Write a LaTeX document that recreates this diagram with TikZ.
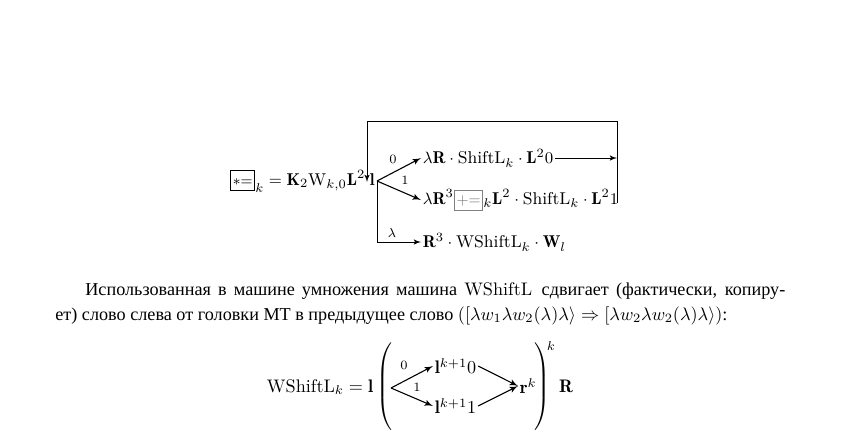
\documentclass[tikz,border=0pt]{standalone}
\usepackage{amsmath}
\usepackage{amssymb}
\usepackage{xcolor}
\usepackage{fontspec}
\newfontfamily\cyr{Liberation Serif}
\usepackage{tikz}
\usetikzlibrary{shapes,arrows}
\tikzstyle{term} = [inner sep=0pt, outer sep=1pt, font=\fontsize{9.4}{11}\selectfont]
\tikzstyle{line} = [draw, -latex']
\tikzstyle{branch} = [draw, semithick, -latex']
\tikzstyle{lbl} = [font=\scriptsize, inner sep=0pt]
\newcommand{\opbox}[1]{{\setlength{\fboxsep}{1pt}\setlength{\fboxrule}{0.5pt}\fbox{\rule[-2pt]{0pt}{8.5pt}\footnotesize$\mathord{#1}\mathord{=}$}}}
\newcommand{\tall}{\vrule height 24pt depth 24pt width 0pt}

\begin{document}
\begin{tikzpicture}[x=0.55pt,y=-0.55pt]
\useasboundingbox (0,0) rectangle (847,435);
% upper scheme
\node [term, anchor=base east] (lhs) at (367,185) {$\opbox{*}_k=\mathbf{K}_2\mathrm{W}_{k,0}\mathbf{L}^2$};
\node [term, anchor=base west] (l) at (368,185) {$\mathbf{l}$};
\coordinate (br) at (377,181);
\node [term, anchor=west] (r0) at (421,158) {$\lambda\mathbf{R}\cdot\mathrm{ShiftL}_k\cdot\mathbf{L}^2 0$};
\node [term, anchor=west] (r1) at (421,200) {$\lambda\mathbf{R}^3\textcolor{gray}{\opbox{+}}_k\mathbf{L}^2\cdot\mathrm{ShiftL}_k\cdot\mathbf{L}^2 1$};
\node [term, anchor=west] (r2) at (421,242) {$\mathbf{R}^3\cdot\mathrm{WShiftL}_k\cdot\mathbf{W}_l$};
\coordinate (ne) at (617,121);
\coordinate (se) at (617,203);
\coordinate (nw) at (367,121);
\coordinate (in) at (367,182);
\path [branch] (br) -- (r0.west);
\path [branch] (br) -- (r1.west);
\path [line] (br) |- (r2.west);
\path [line] (r0.east) -- (r0.east -| ne);
\path [line] (se) -- (ne) -- (nw) -- (in);
\node [lbl] (l0) at (393,159) {$0$};
\node [lbl] (l1) at (405,180) {$1$};
\node [lbl] (ll) at (392,233) {$\lambda$};
% text
\node [inner sep=0pt, anchor=base west] (p1) at (85,295) {\makebox[385pt][s]{\cyr Использованная в машине умножения машина \rmfamily WShiftL \cyr сдвигает (фактически, копиру-}};
\node [inner sep=0pt, anchor=base west] (p2) at (55,320) {\cyr ет) слово слева от головки МТ в предыдущее слово $([\lambda w_1\lambda w_2(\lambda)\lambda\rangle\Rightarrow[\lambda w_2\lambda w_2(\lambda)\lambda\rangle)$:};
% lower scheme
\node [term, font=\normalsize, anchor=base east] (ws) at (375,392) {$\mathrm{WShiftL}_k=\mathbf{l}$};
\node [term, font=\normalsize] (lp) at (386,389) {$\left(\tall\right.$};
\coordinate (b2) at (391,388);
\node [term, font=\normalsize, anchor=west] (a0) at (433,366) {$\mathbf{l}^{k+1}0$};
\node [term, font=\normalsize, anchor=west] (a1) at (433,406) {$\mathbf{l}^{k+1}1$};
\node [term, font=\normalsize, anchor=west] (rk) at (518,386) {$\mathbf{r}^k$};
\node [term, font=\normalsize] (rp) at (541,389) {$\left.\tall\right)$};
\node [lbl] (kk) at (551,346) {$k$};
\node [term, font=\normalsize] (bigR) at (566,386) {$\mathbf{R}$};
\path [branch] (b2) -- (a0.west);
\path [branch] (b2) -- (a1.west);
\path [branch] (a0.east) -- (rk.west);
\path [branch] (a1.east) -- (rk.west);
\node [lbl] (m0) at (404,365) {$0$};
\node [lbl] (m1) at (417,387) {$1$};
\end{tikzpicture}
\end{document}
